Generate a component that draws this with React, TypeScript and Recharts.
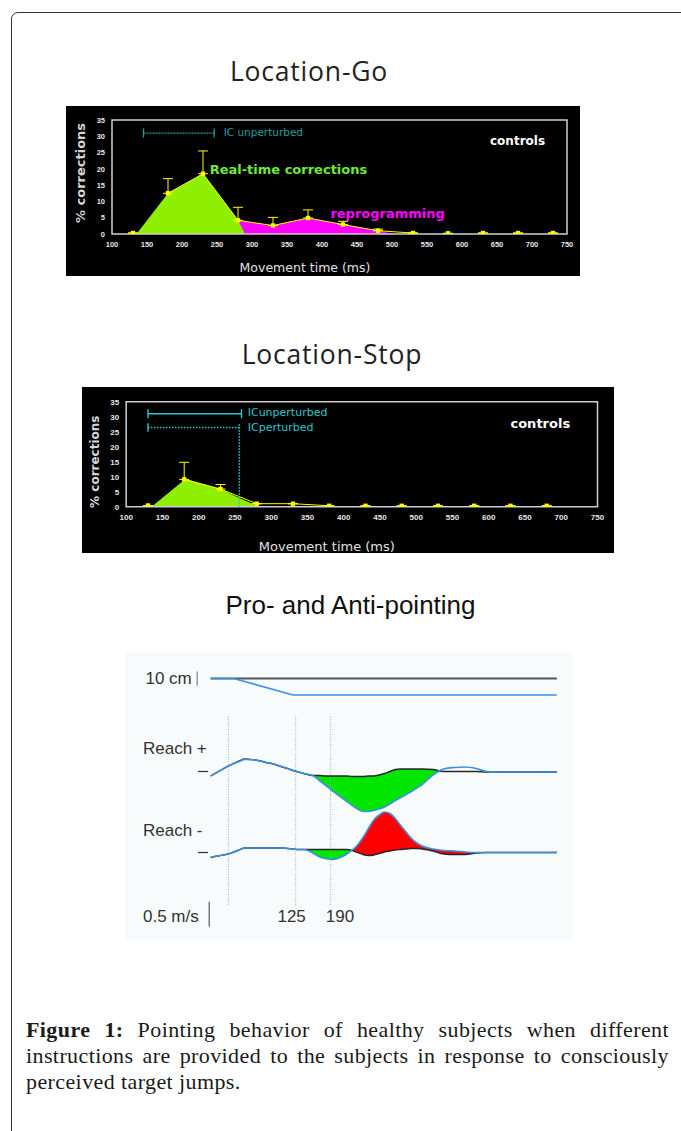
import React from 'react';
import {
  ComposedChart, Area, Line, Scatter, XAxis, YAxis,
  ReferenceLine, ReferenceDot, ReferenceArea, ErrorBar,
} from 'recharts';

// ---------------- shared axis ticks ----------------
const xTicks = [100, 150, 200, 250, 300, 350, 400, 450, 500, 550, 600, 650, 700, 750];
const yTicks = [0, 5, 10, 15, 20, 25, 30, 35];
const stopTopTicks = [200, 300, 400, 500, 600, 700];

// ---------------- Location-Go ----------------
const goTimes = [130, 180, 230, 280, 330, 380, 430, 480, 530, 580, 630, 680, 730];
const goMeans = [0.3, 12.5, 18.5, 4.2, 2.6, 4.9, 2.9, 1.0, 0.3, 0.2, 0.3, 0.3, 0.3];
const goErrUp = [0, 4.5, 7, 4, 2.5, 2.5, 1, 0.5, 0, 0, 0, 0, 0];
const goRealtimeTimes = [135, 180, 230, 280, 290];
const goRealtimeValues = [0, 12.5, 18.5, 4.2, 0];
const goReprogTimes = [280, 330, 380, 430, 480, 505];
const goReprogValues = [4.2, 2.6, 4.9, 2.9, 1.0, 0];
const goIcUnperturbed = [145, 246];

// ---------------- Location-Stop ----------------
const stopTimes = [130, 180, 230, 280, 330, 380, 430, 480, 530, 580, 630, 680];
const stopMeans = [0.4, 9.1, 5.9, 1.0, 1.0, 0.3, 0.3, 0.3, 0.3, 0.3, 0.3, 0.3];
const stopErrUp = [0, 5.7, 1.5, 0, 0, 0, 0, 0, 0, 0, 0, 0];
const stopRealtimeTimes = [135, 180, 186, 230, 256, 278, 284];
const stopRealtimeValues = [0, 8.9, 9.0, 5.9, 2.9, 0.6, 0];
const stopIcUnperturbed = [130, 259];
const stopIcPerturbed = [130, 256];

// ---------------- Pro- and Anti-pointing (velocity, cm/s) ----------------
const pointingTimes = [-33, -20, -10, 0, 10, 20, 30, 40, 50, 60, 70, 80, 90, 100, 110, 120, 130, 140, 150, 160,
  170, 180, 190, 200, 210, 220, 230, 240, 250, 260, 270, 280, 290, 300, 310, 320, 330, 340, 350, 360,
  380, 400, 420, 440, 460, 480, 500, 550, 610];
const reachPlusTarget = [-9, -1, 5, 11, 16, 21, 25, 24, 23, 21, 18, 16, 13, 9, 6, 2, -1, -4, -7, -8,
  -8, -9, -9, -9, -9, -9, -10, -10, -10, -9, -9, -7, -4, 0, 4, 5, 5, 5, 5, 5,
  4, 0, 0, 0, 0, -1, -1, -1, -1];
const reachPlusHand = [-9, -1, 5, 11, 16, 20, 24, 24, 23, 21, 18, 16, 13, 9, 6, 2, -1, -4, -6, -10,
  -19, -27, -36, -44, -52, -60, -68, -75, -80, -80, -78, -75, -71, -65, -58, -52, -46, -40, -33, -26,
  -7, 5, 8, 9, 6, 0, -1, -1, -1];
const reachMinusTarget = [-10, -7, -5, -3, 1, 5, 9, 9, 9, 9, 9, 9, 9, 9, 8, 7, 6, 6, 6, 6,
  6, 6, 6, 6, 6, 6, 4, 0, -4, -6, -5, -2, 1, 3, 5, 6, 7, 8, 8, 7,
  3, -3, -4, -4, -1, 0, 0, 0, 0];
const reachMinusHand = [-10, -7, -5, -3, 1, 5, 9, 9, 9, 9, 9, 9, 9, 9, 8, 7, 6, 6, 3, -3,
  -9, -12, -14, -13, -9, -3, 5, 15, 30, 48, 65, 75, 81, 78, 68, 54, 41, 28, 19, 13,
  7, 4, 3, 1, 0, 0, 0, 0, 0];
const topTimes = [-33, 10, 120, 610];
const initialTargetCm = [0, 0, 0, 0];
const jumpedTargetCm = [0, 0, -11.5, -11.5];
const eventTimes = [0, 125, 190];

// ---------------- layout constants ----------------
const PLUS_OFF = 337;
const MINUS_OFF = 175;
const TOP_OFF = 523;
const CM_UNITS = 2.86;

// ---------------- helpers ----------------
function mergeSeries(series: { key: string; xs: number[]; ys: number[] }[]) {
  const map = new Map<number, any>();
  series.forEach((s) =>
    s.xs.forEach((x, i) => {
      const row = map.get(x) ?? { x };
      row[s.key] = s.ys[i];
      map.set(x, row);
    })
  );
  return Array.from(map.values()).sort((a, b) => a.x - b.x);
}

const note = (text: string, style: React.CSSProperties, anchor: 'start' | 'middle' | 'end' = 'start') =>
  (p: any) => {
    const vb = p?.viewBox ?? {};
    const x = (vb.x ?? 0) + (vb.width ?? 0) / 2;
    const y = (vb.y ?? 0) + (vb.height ?? 0) / 2;
    return (
      <text x={x} y={y} textAnchor={anchor} dominantBaseline="central" style={style}>
        {text}
      </text>
    );
  };

const yAxisLabel = (dx: number, dy: number, size: number) => (p: any) => {
  const vb = p?.viewBox ?? { x: 0, y: 0, width: 0, height: 0 };
  const cx = vb.x + dx;
  const cy = vb.y + vb.height / 2 + dy;
  return (
    <text x={cx} y={cy} transform={`rotate(-90 ${cx} ${cy})`} textAnchor="middle" dominantBaseline="central"
      style={{ fill: '#d6d6d6', fontSize: size, fontWeight: 'bold', fontFamily: 'DejaVu Sans' }}>
      % corrections
    </text>
  );
};

const xAxisLabel = (dx: number, dy: number, size: number) => (p: any) => {
  const vb = p?.viewBox ?? { x: 0, y: 0, width: 0, height: 0 };
  const cx = vb.x + vb.width / 2 + dx;
  const cy = vb.y + dy;
  return (
    <text x={cx} y={cy} textAnchor="middle" dominantBaseline="central"
      style={{ fill: '#e2e2e2', fontSize: size, fontFamily: 'DejaVu Sans' }}>
      Movement time (ms)
    </text>
  );
};

const squareMarker = (p: any) => {
  if (p.cx == null || p.cy == null) return <g />;
  return <rect x={p.cx - 2.2} y={p.cy - 2.2} width={4.4} height={4.4} fill="#ffff00" />;
};

// ---------------- data tables ----------------
const goTable = mergeSeries([
  { key: 'realtime', xs: goRealtimeTimes, ys: goRealtimeValues },
  { key: 'reprog', xs: goReprogTimes, ys: goReprogValues },
]);
const goMarkers = goTimes.map((t, i) => ({ x: t, y: goMeans[i], err: [0, goErrUp[i]] }));
const goLine = goTimes.map((t, i) => ({ x: t, y: goMeans[i] })).filter((d) => d.x >= 180 && d.x <= 530);

const stopTable = mergeSeries([{ key: 'realtime', xs: stopRealtimeTimes, ys: stopRealtimeValues }]);
const stopMarkers = stopTimes.map((t, i) => ({ x: t, y: stopMeans[i], err: [0, stopErrUp[i]] }));
const stopLine = stopTimes.map((t, i) => ({ x: t, y: stopMeans[i] })).filter((d) => d.x >= 180 && d.x <= 380);

const ptTable = pointingTimes.map((t, i) => {
  const bp = reachPlusTarget[i];
  const hp = reachPlusHand[i];
  const bm = reachMinusTarget[i];
  const hm = reachMinusHand[i];
  return {
    t,
    plusTarget: bp + PLUS_OFF,
    plusHand: hp + PLUS_OFF,
    plusGreen: [Math.min(bp, hp) + PLUS_OFF, bp + PLUS_OFF],
    minusTarget: bm + MINUS_OFF,
    minusHand: hm + MINUS_OFF,
    minusGreen: [Math.min(bm, hm) + MINUS_OFF, bm + MINUS_OFF],
    minusRed: [bm + MINUS_OFF, Math.max(bm, hm) + MINUS_OFF],
  };
});
const topInitial = topTimes.map((t, i) => ({ t, v: TOP_OFF + initialTargetCm[i] * CM_UNITS }));
const topJumped = topTimes.map((t, i) => ({ t, v: TOP_OFF + jumpedTargetCm[i] * CM_UNITS }));

const tickGo = { fill: '#e6e6e6', fontSize: 7.5, fontWeight: 'bold', fontFamily: 'Liberation Sans' };
const tickStop = { fill: '#e6e6e6', fontSize: 8, fontWeight: 'bold', fontFamily: 'Liberation Sans' };

const GO_TEAL = '#1f9f9f';
const STOP_CYAN = '#2cc6cc';
const labelFont3: React.CSSProperties = { fill: '#333', fontSize: 17, fontFamily: 'Liberation Sans' };

export default function App() {
  return (
    <div style={{ position: 'absolute', left: 0, top: 0, width: 681, height: 1131, overflow: 'hidden', background: '#fff' }}>
      {/* frame */}
      <div style={{ position: 'absolute', left: 11, top: 12, width: 740, height: 1200, border: '1.3px solid #333', borderRadius: 7 }} />

      {/* titles */}
      <div style={{ position: 'absolute', left: 0, width: 618, top: 56, lineHeight: '30px', textAlign: 'center', fontFamily: 'Open Sans', fontSize: 26.5, letterSpacing: 0.8, color: '#222' }}>
        Location-Go
      </div>
      <div style={{ position: 'absolute', left: 0, width: 664, top: 339, lineHeight: '30px', textAlign: 'center', fontFamily: 'Open Sans', fontSize: 26.5, letterSpacing: 0.8, color: '#222' }}>
        Location-Stop
      </div>
      <div style={{ position: 'absolute', left: 0, width: 701, top: 590, lineHeight: '30px', textAlign: 'center', fontFamily: 'Liberation Sans', fontSize: 26, color: '#111' }}>
        Pro- and Anti-pointing
      </div>

      {/* ---------- Location-Go chart ---------- */}
      <div style={{ position: 'absolute', left: 66, top: 106, width: 514, height: 170, background: '#000' }}>
        <ComposedChart width={514} height={170} data={goTable} margin={{ top: 14, right: 13, bottom: 12, left: 16 }}>
          <XAxis dataKey="x" type="number" domain={[100, 750]} ticks={xTicks} interval={0} tick={tickGo}
            tickLine={false} axisLine={false} tickSize={4} tickMargin={4} height={30} allowDataOverflow
            label={xAxisLabel(-34.5, 33, 12.5)} />
          <YAxis type="number" domain={[0, 35]} ticks={yTicks} interval={0} tick={tickGo}
            tickLine={false} axisLine={false} tickSize={4} tickMargin={3} width={30} allowDataOverflow
            label={yAxisLabel(-2, -4, 13)} />
          <Area dataKey="reprog" type="linear" fill="#ff00ff" fillOpacity={1} stroke="none" connectNulls isAnimationActive={false} />
          <Area dataKey="realtime" type="linear" fill="#8ef000" fillOpacity={1} stroke="none" connectNulls isAnimationActive={false} />
          <ReferenceArea x1={100} x2={750} y1={0} y2={35} fill="none" stroke="#cfcfcf" strokeWidth={1.5} ifOverflow="visible" />
          <Line data={goLine} dataKey="y" type="linear" stroke="#ffff00" strokeWidth={1} dot={false} isAnimationActive={false} />
          <Scatter data={goMarkers} dataKey="y" shape={squareMarker} isAnimationActive={false}>
            <ErrorBar dataKey="err" direction="y" width={5} stroke="#ffff00" strokeWidth={1} />
          </Scatter>
          <ReferenceLine segment={[{ x: goIcUnperturbed[0], y: 31 }, { x: goIcUnperturbed[1], y: 31 }]} stroke={GO_TEAL} strokeWidth={1.3} strokeDasharray="2 1" />
          <ReferenceLine segment={[{ x: goIcUnperturbed[0], y: 29.6 }, { x: goIcUnperturbed[0], y: 32.4 }]} stroke={GO_TEAL} strokeWidth={1.3} />
          <ReferenceLine segment={[{ x: goIcUnperturbed[1], y: 29.6 }, { x: goIcUnperturbed[1], y: 32.4 }]} stroke={GO_TEAL} strokeWidth={1.3} />
          <ReferenceDot x={259.5} y={31.2} r={0} fill="none" stroke="none"
            label={note('IC unperturbed', { fill: GO_TEAL, fontSize: 10.5, fontFamily: 'DejaVu Sans' })} />
          <ReferenceDot x={640} y={28.7} r={0} fill="none" stroke="none"
            label={note('controls', { fill: '#ffffff', fontSize: 12, fontWeight: 'bold', fontFamily: 'DejaVu Sans' })} />
          <ReferenceDot x={239.5} y={19.9} r={0} fill="none" stroke="none"
            label={note('Real-time corrections', { fill: '#6ee83a', fontSize: 13, fontWeight: 'bold', fontFamily: 'DejaVu Sans' })} />
          <ReferenceDot x={412} y={6.4} r={0} fill="none" stroke="none"
            label={note('reprogramming', { fill: '#ff00ff', fontSize: 13, fontWeight: 'bold', fontFamily: 'DejaVu Sans' })} />
        </ComposedChart>
      </div>

      {/* ---------- Location-Stop chart ---------- */}
      <div style={{ position: 'absolute', left: 82, top: 387, width: 532, height: 166, background: '#000' }}>
        <ComposedChart width={532} height={166} data={stopTable} margin={{ top: 14.7, right: 16.5, bottom: 16.3, left: 14.2 }}>
          <XAxis dataKey="x" type="number" domain={[100, 750]} ticks={xTicks} interval={0} tick={tickStop}
            tickLine={false} axisLine={false} tickSize={4} tickMargin={4} height={30} allowDataOverflow
            label={xAxisLabel(-35, 40, 13)} />
          <XAxis xAxisId="top" orientation="top" type="number" domain={[100, 750]} ticks={stopTopTicks} interval={0}
            tick={false} tickLine={{ stroke: '#cfcfcf' }} axisLine={false} tickSize={3} height={0} />
          <YAxis type="number" domain={[0, 35]} ticks={yTicks} interval={0} tick={tickStop}
            tickLine={false} axisLine={false} tickSize={4} tickMargin={3} width={30} allowDataOverflow
            label={yAxisLabel(-1.2, 7.5, 12)} />
          <Area dataKey="realtime" type="linear" fill="#8ef000" fillOpacity={1} stroke="none" connectNulls isAnimationActive={false} />
          <ReferenceArea x1={100} x2={750} y1={0} y2={35} fill="none" stroke="#cfcfcf" strokeWidth={1.5} ifOverflow="visible" />
          <Line data={stopLine} dataKey="y" type="linear" stroke="#ffff00" strokeWidth={1} dot={false} isAnimationActive={false} />
          <Scatter data={stopMarkers} dataKey="y" shape={squareMarker} isAnimationActive={false}>
            <ErrorBar dataKey="err" direction="y" width={5} stroke="#ffff00" strokeWidth={1} />
          </Scatter>
          <ReferenceLine segment={[{ x: stopIcUnperturbed[0], y: 31 }, { x: stopIcUnperturbed[1], y: 31 }]} stroke={STOP_CYAN} strokeWidth={1.4} />
          <ReferenceLine segment={[{ x: stopIcUnperturbed[0], y: 29.5 }, { x: stopIcUnperturbed[0], y: 32.5 }]} stroke={STOP_CYAN} strokeWidth={1.4} />
          <ReferenceLine segment={[{ x: stopIcUnperturbed[1], y: 29.5 }, { x: stopIcUnperturbed[1], y: 32.5 }]} stroke={STOP_CYAN} strokeWidth={1.4} />
          <ReferenceLine segment={[{ x: stopIcPerturbed[0], y: 26.4 }, { x: stopIcPerturbed[1], y: 26.4 }]} stroke={STOP_CYAN} strokeWidth={1.6} strokeDasharray="1.5 1.5" />
          <ReferenceLine segment={[{ x: stopIcPerturbed[0], y: 25 }, { x: stopIcPerturbed[0], y: 27.8 }]} stroke={STOP_CYAN} strokeWidth={1.4} />
          <ReferenceLine segment={[{ x: stopIcPerturbed[1], y: 0 }, { x: stopIcPerturbed[1], y: 27.8 }]} stroke={STOP_CYAN} strokeWidth={1.6} strokeDasharray="1.5 1.5" />
          <ReferenceDot x={267.6} y={31.3} r={0} fill="none" stroke="none"
            label={note('ICunperturbed', { fill: STOP_CYAN, fontSize: 11, fontFamily: 'DejaVu Sans' })} />
          <ReferenceDot x={267.6} y={26.4} r={0} fill="none" stroke="none"
            label={note('ICperturbed', { fill: STOP_CYAN, fontSize: 11, fontFamily: 'DejaVu Sans' })} />
          <ReferenceDot x={630} y={27.6} r={0} fill="none" stroke="none"
            label={note('controls', { fill: '#ffffff', fontSize: 13, fontWeight: 'bold', fontFamily: 'DejaVu Sans' })} />
        </ComposedChart>
      </div>

      {/* ---------- Pro- and Anti-pointing ---------- */}
      <div style={{ position: 'absolute', left: 125, top: 652, width: 448, height: 288, background: '#f8fbfc' }}>
        <ComposedChart width={448} height={288} data={ptTable} margin={{ top: 0, right: 0, bottom: 0, left: 0 }}>
          <XAxis dataKey="t" type="number" domain={[-192, 640]} hide allowDataOverflow />
          <YAxis type="number" domain={[0, 576]} hide allowDataOverflow />
          {eventTimes.map((e) => (
            <ReferenceLine key={e} segment={[{ x: e, y: 70 }, { x: e, y: 447 }]} stroke="#a3abbb" strokeWidth={1} strokeDasharray="1 1.5" />
          ))}
          <Area dataKey="plusGreen" type="monotone" fill="#00e600" fillOpacity={1} stroke="none" isAnimationActive={false} />
          <Area dataKey="minusGreen" type="monotone" fill="#00e600" fillOpacity={1} stroke="none" isAnimationActive={false} />
          <Area dataKey="minusRed" type="monotone" fill="#ff0000" fillOpacity={1} stroke="none" isAnimationActive={false} />
          <Line dataKey="plusTarget" type="monotone" stroke="#262626" strokeWidth={1.4} dot={false} isAnimationActive={false} />
          <Line dataKey="plusHand" type="monotone" stroke="#3d8fe0" strokeWidth={1.6} dot={false} isAnimationActive={false} />
          <Line dataKey="minusTarget" type="monotone" stroke="#262626" strokeWidth={1.4} dot={false} isAnimationActive={false} />
          <Line dataKey="minusHand" type="monotone" stroke="#3d8fe0" strokeWidth={1.6} dot={false} isAnimationActive={false} />
          <Line data={topInitial} dataKey="v" type="linear" stroke="#4c5856" strokeWidth={2} dot={false} isAnimationActive={false} />
          <Line data={topJumped} dataKey="v" type="linear" stroke="#3d8fe8" strokeWidth={1.6} dot={false} isAnimationActive={false} />
          {/* scale bars and zero marks */}
          <ReferenceLine segment={[{ x: -57.8, y: TOP_OFF - 5 * CM_UNITS }, { x: -57.8, y: TOP_OFF + 5 * CM_UNITS }]} stroke="#999" strokeWidth={1.5} />
          <ReferenceLine segment={[{ x: -35.5, y: 26.6 }, { x: -35.5, y: 76.6 }]} stroke="#777" strokeWidth={1.5} />
          <ReferenceLine segment={[{ x: -56.5, y: PLUS_OFF }, { x: -38, y: PLUS_OFF }]} stroke="#333" strokeWidth={1.3} />
          <ReferenceLine segment={[{ x: -56.5, y: MINUS_OFF }, { x: -38, y: MINUS_OFF }]} stroke="#333" strokeWidth={1.3} />
          <ReferenceDot x={-68} y={524} r={0} fill="none" stroke="none" label={note('10 cm', labelFont3, 'end')} />
          <ReferenceDot x={-158.6} y={384} r={0} fill="none" stroke="none" label={note('Reach +', labelFont3)} />
          <ReferenceDot x={-158.6} y={220} r={0} fill="none" stroke="none" label={note('Reach -', labelFont3)} />
          <ReferenceDot x={-158.6} y={47} r={0} fill="none" stroke="none" label={note('0.5 m/s', labelFont3)} />
          <ReferenceDot x={117.5} y={47} r={0} fill="none" stroke="none" label={note('125', labelFont3, 'middle')} />
          <ReferenceDot x={207.2} y={47} r={0} fill="none" stroke="none" label={note('190', labelFont3, 'middle')} />
        </ComposedChart>
      </div>

      {/* caption */}
      <div style={{ position: 'absolute', left: 26, top: 1017, width: 643, fontFamily: 'Liberation Serif', fontSize: 22, lineHeight: '26.2px', letterSpacing: 0.4, color: '#1a1a1a' }}>
        <div style={{ textAlign: 'justify', textAlignLast: 'justify' as any }}>
          <b>Figure 1:</b> Pointing behavior of healthy subjects when different
        </div>
        <div style={{ textAlign: 'justify', textAlignLast: 'justify' as any }}>
          instructions are provided to the subjects in response to consciously
        </div>
        <div>perceived target jumps.</div>
      </div>
    </div>
  );
}
